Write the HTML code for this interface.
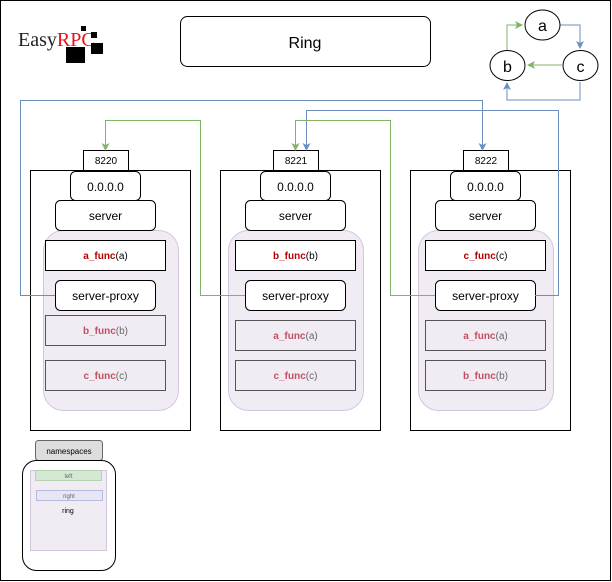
<!DOCTYPE html>
<html><head><meta charset="utf-8"><style>
html,body{margin:0;padding:0;background:#fff;}
svg{display:block;font-family:"Liberation Sans",Arial,sans-serif;}
</style></head><body>
<svg width="612" height="582" viewBox="0 0 612 582" xmlns="http://www.w3.org/2000/svg">
<defs>
<marker id="ab" markerWidth="8" markerHeight="8" refX="7" refY="4" orient="auto" markerUnits="userSpaceOnUse"><path d="M0,0 L8,4 L0,8 L2,4 z" fill="#6c8ebf"/></marker>
<marker id="ag" markerWidth="8" markerHeight="8" refX="7" refY="4" orient="auto" markerUnits="userSpaceOnUse"><path d="M0,0 L8,4 L0,8 L2,4 z" fill="#82b366"/></marker>
</defs>
<rect x="0.5" y="0.5" width="610" height="580" fill="#fff" stroke="#000"/>
<!-- logo -->
<text x="18" y="46" font-family="Liberation Serif,serif" font-size="20" fill="#222">Easy<tspan fill="#e3141b">RPC</tspan></text>
<rect x="81" y="26" width="5" height="5" fill="#000"/>
<rect x="91" y="32" width="6" height="6" fill="#000"/>
<rect x="66" y="47" width="19" height="16" fill="#000"/>
<rect x="91" y="43" width="12" height="11" fill="#000"/>
<!-- Ring -->
<rect x="180.5" y="16.5" width="250" height="50" rx="7" fill="#fff" stroke="#000"/>
<text x="305" y="48" font-size="16" text-anchor="middle">Ring</text>
<!-- abc -->
<path d="M507,53 V25 H522" fill="none" stroke="#82b366" marker-end="url(#ag)"/>
<path d="M560,25 H580 V48" fill="none" stroke="#6c8ebf" marker-end="url(#ab)"/>
<path d="M562,65 H528" fill="none" stroke="#82b366" marker-end="url(#ag)"/>
<path d="M580,82 V100 H507 V83" fill="none" stroke="#6c8ebf" marker-end="url(#ab)"/>
<ellipse cx="542.5" cy="25" rx="17.5" ry="15" fill="#fff" stroke="#000"/>
<text x="542.5" y="31" font-size="16" text-anchor="middle">a</text>
<ellipse cx="507.5" cy="65.5" rx="17.5" ry="15" fill="#fff" stroke="#000"/>
<text x="507.5" y="72" font-size="16" text-anchor="middle">b</text>
<ellipse cx="580.5" cy="65.5" rx="17.5" ry="15" fill="#fff" stroke="#000"/>
<text x="580.5" y="72" font-size="16" text-anchor="middle">c</text>

<!-- nodes -->
<g id="n1">
<rect x="30.5" y="170.5" width="160" height="260" fill="#fff" stroke="#000"/>
<rect x="43.5" y="230.5" width="135" height="180" rx="20" fill="#f1ecf4" stroke="#d3c6dc"/>
<rect x="83.5" y="150.5" width="45" height="20" fill="#fff" stroke="#000"/>
<text x="106" y="164" font-size="10" text-anchor="middle">8220</text>
<rect x="70.5" y="171.5" width="70" height="29" rx="5" fill="#fff" stroke="#000"/>
<text x="105.5" y="191" font-size="12" text-anchor="middle">0.0.0.0</text>
<rect x="55.5" y="200.5" width="100" height="30" rx="5" fill="#fff" stroke="#000"/>
<text x="105.5" y="220" font-size="12" text-anchor="middle">server</text>
<rect x="45.5" y="240.5" width="120" height="30" fill="#fff" stroke="#000"/>
<text x="105.5" y="259" font-size="10" text-anchor="middle"><tspan fill="#b20000" font-weight="bold">a_func</tspan>(a)</text>
<rect x="55.5" y="280.5" width="100" height="30" rx="5" fill="#fff" stroke="#000"/>
<text x="105.5" y="300" font-size="12" text-anchor="middle">server-proxy</text>
<rect x="45.5" y="315.5" width="120" height="30" fill="none" stroke="#555"/>
<text x="105.5" y="334" font-size="10" text-anchor="middle" fill="#666"><tspan fill="#c05060" font-weight="bold">b_func</tspan>(b)</text>
<rect x="45.5" y="360.5" width="120" height="30" fill="none" stroke="#555"/>
<text x="105.5" y="379" font-size="10" text-anchor="middle" fill="#666"><tspan fill="#c05060" font-weight="bold">c_func</tspan>(c)</text>
</g>
<g>
<rect x="220.5" y="170.5" width="160" height="260" fill="#fff" stroke="#000"/>
<rect x="228.5" y="230.5" width="135" height="180" rx="20" fill="#f1ecf4" stroke="#d3c6dc"/>
<rect x="273.5" y="150.5" width="45" height="20" fill="#fff" stroke="#000"/>
<text x="296" y="164" font-size="10" text-anchor="middle">8221</text>
<rect x="260.5" y="171.5" width="70" height="29" rx="5" fill="#fff" stroke="#000"/>
<text x="295.5" y="191" font-size="12" text-anchor="middle">0.0.0.0</text>
<rect x="245.5" y="200.5" width="100" height="30" rx="5" fill="#fff" stroke="#000"/>
<text x="295.5" y="220" font-size="12" text-anchor="middle">server</text>
<rect x="235.5" y="240.5" width="120" height="30" fill="#fff" stroke="#000"/>
<text x="295.5" y="259" font-size="10" text-anchor="middle"><tspan fill="#b20000" font-weight="bold">b_func</tspan>(b)</text>
<rect x="245.5" y="280.5" width="100" height="30" rx="5" fill="#fff" stroke="#000"/>
<text x="295.5" y="300" font-size="12" text-anchor="middle">server-proxy</text>
<rect x="235.5" y="320.5" width="120" height="30" fill="none" stroke="#555"/>
<text x="295.5" y="339" font-size="10" text-anchor="middle" fill="#666"><tspan fill="#c05060" font-weight="bold">a_func</tspan>(a)</text>
<rect x="235.5" y="360.5" width="120" height="30" fill="none" stroke="#555"/>
<text x="295.5" y="379" font-size="10" text-anchor="middle" fill="#666"><tspan fill="#c05060" font-weight="bold">c_func</tspan>(c)</text>
</g>
<g>
<rect x="410.5" y="170.5" width="160" height="260" fill="#fff" stroke="#000"/>
<rect x="418.5" y="230.5" width="135" height="180" rx="20" fill="#f1ecf4" stroke="#d3c6dc"/>
<rect x="463.5" y="150.5" width="45" height="20" fill="#fff" stroke="#000"/>
<text x="486" y="164" font-size="10" text-anchor="middle">8222</text>
<rect x="450.5" y="171.5" width="70" height="29" rx="5" fill="#fff" stroke="#000"/>
<text x="485.5" y="191" font-size="12" text-anchor="middle">0.0.0.0</text>
<rect x="435.5" y="200.5" width="100" height="30" rx="5" fill="#fff" stroke="#000"/>
<text x="485.5" y="220" font-size="12" text-anchor="middle">server</text>
<rect x="425.5" y="240.5" width="120" height="30" fill="#fff" stroke="#000"/>
<text x="485.5" y="259" font-size="10" text-anchor="middle"><tspan fill="#b20000" font-weight="bold">c_func</tspan>(c)</text>
<rect x="435.5" y="280.5" width="100" height="30" rx="5" fill="#fff" stroke="#000"/>
<text x="485.5" y="300" font-size="12" text-anchor="middle">server-proxy</text>
<rect x="425.5" y="320.5" width="120" height="30" fill="none" stroke="#555"/>
<text x="485.5" y="339" font-size="10" text-anchor="middle" fill="#666"><tspan fill="#c05060" font-weight="bold">a_func</tspan>(a)</text>
<rect x="425.5" y="360.5" width="120" height="30" fill="none" stroke="#555"/>
<text x="485.5" y="379" font-size="10" text-anchor="middle" fill="#666"><tspan fill="#c05060" font-weight="bold">b_func</tspan>(b)</text>
</g>

<!-- connectors -->
<path d="M55,295.5 H20.5 V100.5 H482.5 V150" fill="none" stroke="#6c8ebf" marker-end="url(#ab)"/>
<path d="M535,295.5 H558.5 V110.5 H306.5 V150" fill="none" stroke="#6c8ebf" marker-end="url(#ab)"/>
<path d="M245,295.5 H200.5 V120.5 H105.5 V150" fill="none" stroke="#82b366" marker-end="url(#ag)"/>
<path d="M435,295.5 H390.5 V120.5 H295.5 V150" fill="none" stroke="#82b366" marker-end="url(#ag)"/>

<!-- legend -->
<rect x="35.5" y="440.5" width="67" height="20" rx="3" fill="#ddd" stroke="#666"/>
<text x="69" y="454" font-size="8" text-anchor="middle">namespaces</text>
<rect x="22.5" y="460.5" width="93" height="110" rx="14" fill="#fff" stroke="#000"/>
<rect x="30.5" y="470.5" width="76" height="80" fill="#f1ecf4" stroke="#d3c6dc"/>
<rect x="35.5" y="470.5" width="66" height="10" fill="#d5e8d4" stroke="#b7d2b3"/>
<text x="68.5" y="478" font-size="6" text-anchor="middle" fill="#666">left</text>
<rect x="36.5" y="490.5" width="66" height="10" fill="#e6e6f5" stroke="#b8b8e0"/>
<text x="69" y="498" font-size="6" text-anchor="middle" fill="#666">right</text>
<text x="68" y="513" font-size="7" text-anchor="middle">ring</text>
</svg>
</body></html>
